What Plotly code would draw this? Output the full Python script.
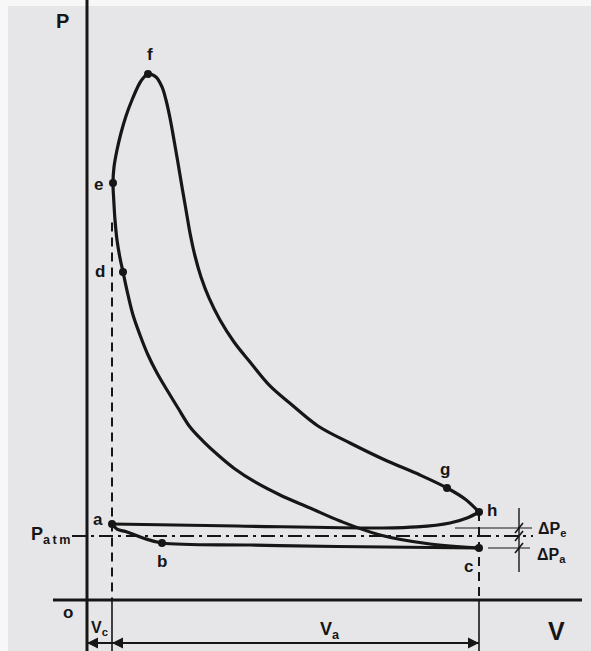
import plotly.graph_objects as go

# Indicator diagram of a four-stroke engine.
# Volume in units of the clearance volume Vc, pressure in atmospheres.
V_C = 1.0
V_MAX = 15.68
P_ATM = 1.0
P_EXH = 1.125
P_ADM = 0.8125

# intake stroke a -> b -> c
v_intake = [1.00, 1.20, 1.60, 2.24, 3.00, 6.52, 10.0, 15.68]
p_intake = [1.1875, 1.109, 1.0625, 0.969, 0.891, 0.859, 0.836, 0.8125]

# compression c -> d
v_comp = [15.68, 13.72, 11.72, 10.12, 8.92, 7.72, 6.72, 5.92, 5.24, 4.64,
          4.12, 3.64, 3.20, 2.80, 2.44, 2.12, 1.84, 1.64, 1.44]
p_comp = [0.8125, 0.875, 1.016, 1.234, 1.4375, 1.641, 1.844, 2.047, 2.266, 2.484,
          2.703, 3.0, 3.281, 3.547, 3.828, 4.141, 4.453, 4.766, 5.125]

# combustion d -> e -> f
v_comb = [1.32, 1.20, 1.12, 1.07, 1.04, 1.08, 1.20, 1.36, 1.56, 1.80, 2.16, 2.44]
p_comb = [5.344, 5.625, 5.9375, 6.25, 6.516, 6.766, 7.031, 7.297, 7.5625, 7.8125, 8.109, 8.219]

# expansion f -> g -> h
v_exp = [2.76, 3.0, 3.16, 3.32, 3.48, 3.64, 3.80, 3.96, 4.12, 4.32, 4.56, 4.88,
         5.32, 5.88, 6.52, 7.32, 8.20, 9.24, 10.52, 11.92, 13.32, 14.40, 15.12, 15.68]
p_exp = [8.172, 8.016, 7.8125, 7.531, 7.1875, 6.828, 6.453, 6.094, 5.734, 5.375, 5.047, 4.719,
         4.375, 4.031, 3.719, 3.344, 3.047, 2.719, 2.453, 2.1875, 1.953, 1.75, 1.578, 1.375]

# exhaust stroke h -> a
v_exhaust = [15.68, 15.20, 14.52, 13.20, 11.84, 6.0, 1.00]
p_exhaust = [1.375, 1.281, 1.203, 1.141, 1.125, 1.156, 1.1875]

# marked states of the cycle
key_names = ["a", "b", "c", "d", "e", "f", "g", "h"]
key_v = [1.00, 3.00, 15.68, 1.44, 1.04, 2.44, 14.40, 15.68]
key_p = [1.1875, 0.891, 0.8125, 5.125, 6.516, 8.219, 1.75, 1.375]

INK = "#161616"
BG = "#e6e6e8"
FONT = "Liberation Sans, Arial, sans-serif"

# label offsets in pixels (x right, y up)
label_shift = {"a": (-14, 4), "b": (0, -19), "c": (-11, -19), "d": (-23, 1),
               "e": (-15, -2), "f": (2, 19), "g": (-2, 18), "h": (13, 1)}

X_RANGE = [-3.48, 20.16]
Y_RANGE = [-0.797, 9.375]
P_DIM = -0.672          # level of the stroke dimension line
P_TOP_VC = 5.9          # top of the dashed Vc line
DV, DP = 0.16, 0.078    # half-size of the dimension ticks

fig = go.Figure()

curve = dict(color=INK, width=3.2, shape="spline", smoothing=1.0)
# the closed part of the cycle runs through c, d, e, f, g, h in one stroke
v_cycle = v_comp + v_comb + v_exp
p_cycle = p_comp + p_comb + p_exp
for vs, ps in ((v_intake, p_intake), (v_cycle, p_cycle), (v_exhaust, p_exhaust)):
    fig.add_trace(go.Scatter(x=vs, y=ps, mode="lines", line=curve, hoverinfo="skip"))
fig.add_trace(go.Scatter(x=key_v, y=key_p, mode="markers",
                         marker=dict(color=INK, size=8), hoverinfo="skip"))

shapes = []
# page edges
shapes.append(dict(type="rect", xref="paper", yref="paper", x0=0, x1=8 / 591,
                   y0=0, y1=1, fillcolor="#f7f7f7", line=dict(width=0), layer="below"))
shapes.append(dict(type="rect", xref="paper", yref="paper", x0=0, x1=1,
                   y0=1 - 6 / 651, y1=1, fillcolor="#f7f7f7", line=dict(width=0), layer="below"))
# axes
shapes.append(dict(type="line", x0=0, x1=0, y0=Y_RANGE[0], y1=Y_RANGE[1],
                   line=dict(color=INK, width=3)))
shapes.append(dict(type="line", x0=-1.36, x1=19.8, y0=0, y1=0,
                   line=dict(color=INK, width=3)))
# atmospheric pressure
shapes.append(dict(type="line", x0=-0.6, x1=17.84, y0=P_ATM, y1=P_ATM,
                   line=dict(color=INK, width=2, dash="14px,5px,3px,5px")))
# dead-centre volumes
shapes.append(dict(type="line", x0=V_C, x1=V_C, y0=P_TOP_VC, y1=0,
                   line=dict(color=INK, width=2, dash="9px,6px")))
shapes.append(dict(type="line", x0=V_C, x1=V_C, y0=0, y1=Y_RANGE[0],
                   line=dict(color=INK, width=1.6)))
shapes.append(dict(type="line", x0=V_MAX, x1=V_MAX, y0=key_p[7], y1=0,
                   line=dict(color=INK, width=2, dash="9px,6px")))
shapes.append(dict(type="line", x0=V_MAX, x1=V_MAX, y0=0, y1=Y_RANGE[0],
                   line=dict(color=INK, width=1.6)))
# stroke dimension line
shapes.append(dict(type="line", x0=0, x1=V_MAX, y0=P_DIM, y1=P_DIM,
                   line=dict(color=INK, width=2)))
# pressure-loss reference lines
shapes.append(dict(type="line", x0=14.72, x1=17.8, y0=P_EXH, y1=P_EXH,
                   line=dict(color=INK, width=1.2)))
shapes.append(dict(type="line", x0=16.04, x1=17.72, y0=P_ADM, y1=P_ADM,
                   line=dict(color=INK, width=1.2)))
shapes.append(dict(type="line", x0=17.28, x1=17.28, y0=1.4375, y1=0.4375,
                   line=dict(color=INK, width=1.4)))
for lvl in (P_EXH, P_ATM, P_ADM):
    shapes.append(dict(type="line", x0=17.28 - DV, x1=17.28 + DV,
                       y0=lvl - DP, y1=lvl + DP, line=dict(color=INK, width=1.6)))

annotations = []
for name, v, p in zip(key_names, key_v, key_p):
    dx, dy = label_shift[name]
    annotations.append(dict(x=v, y=p, text=f"<b>{name}</b>", showarrow=False,
                            xshift=dx, yshift=dy, xanchor="center", yanchor="middle",
                            font=dict(size=17, color=INK, family=FONT)))


def txt(x, y, s, size, anchor="center", ref="data"):
    d = dict(x=x, y=y, text=s, showarrow=False, xanchor=anchor, yanchor="middle",
             font=dict(size=size, color=INK, family=FONT))
    if ref == "paper":
        d.update(xref="paper", yref="paper")
    return d


annotations.append(txt(62 / 591, 1 - 21 / 651, "<b>P</b>", 20, ref="paper"))
annotations.append(txt(556 / 591, 1 - 631 / 651, "<b>V</b>", 25, ref="paper"))
annotations.append(txt(-0.76, -0.19, "<b>o</b>", 17))
annotations.append(txt(-0.6, P_ATM, "<b>P<sub>a\u2009t\u2009m</sub></b>", 18, anchor="right"))
annotations.append(txt(V_C / 2, -0.44, "<b>V<sub>c</sub></b>", 16))
annotations.append(txt(9.72, -0.47, "<b>V<sub>a</sub></b>", 18))
annotations.append(txt(17.96, 1.094, "<b>ΔP<sub>e</sub></b>", 16, anchor="left"))
annotations.append(txt(17.92, 0.6875, "<b>ΔP<sub>a</sub></b>", 16, anchor="left"))

# arrowheads of the dimension line
for head, tail in ((0.0, V_C), (V_C, 5.0), (V_MAX, 10.0)):
    annotations.append(dict(x=head, y=P_DIM, ax=tail, ay=P_DIM, xref="x", yref="y",
                            axref="x", ayref="y", text="", showarrow=True,
                            arrowhead=2, arrowsize=1.1, arrowwidth=2, arrowcolor=INK,
                            standoff=0))

fig.update_layout(
    width=591, height=651, margin=dict(l=0, r=0, t=0, b=0),
    paper_bgcolor=BG, plot_bgcolor=BG, showlegend=False,
    xaxis=dict(range=X_RANGE, visible=False, fixedrange=True),
    yaxis=dict(range=Y_RANGE, visible=False, fixedrange=True),
    shapes=shapes, annotations=annotations,
)

fig.write_html("out.html")
